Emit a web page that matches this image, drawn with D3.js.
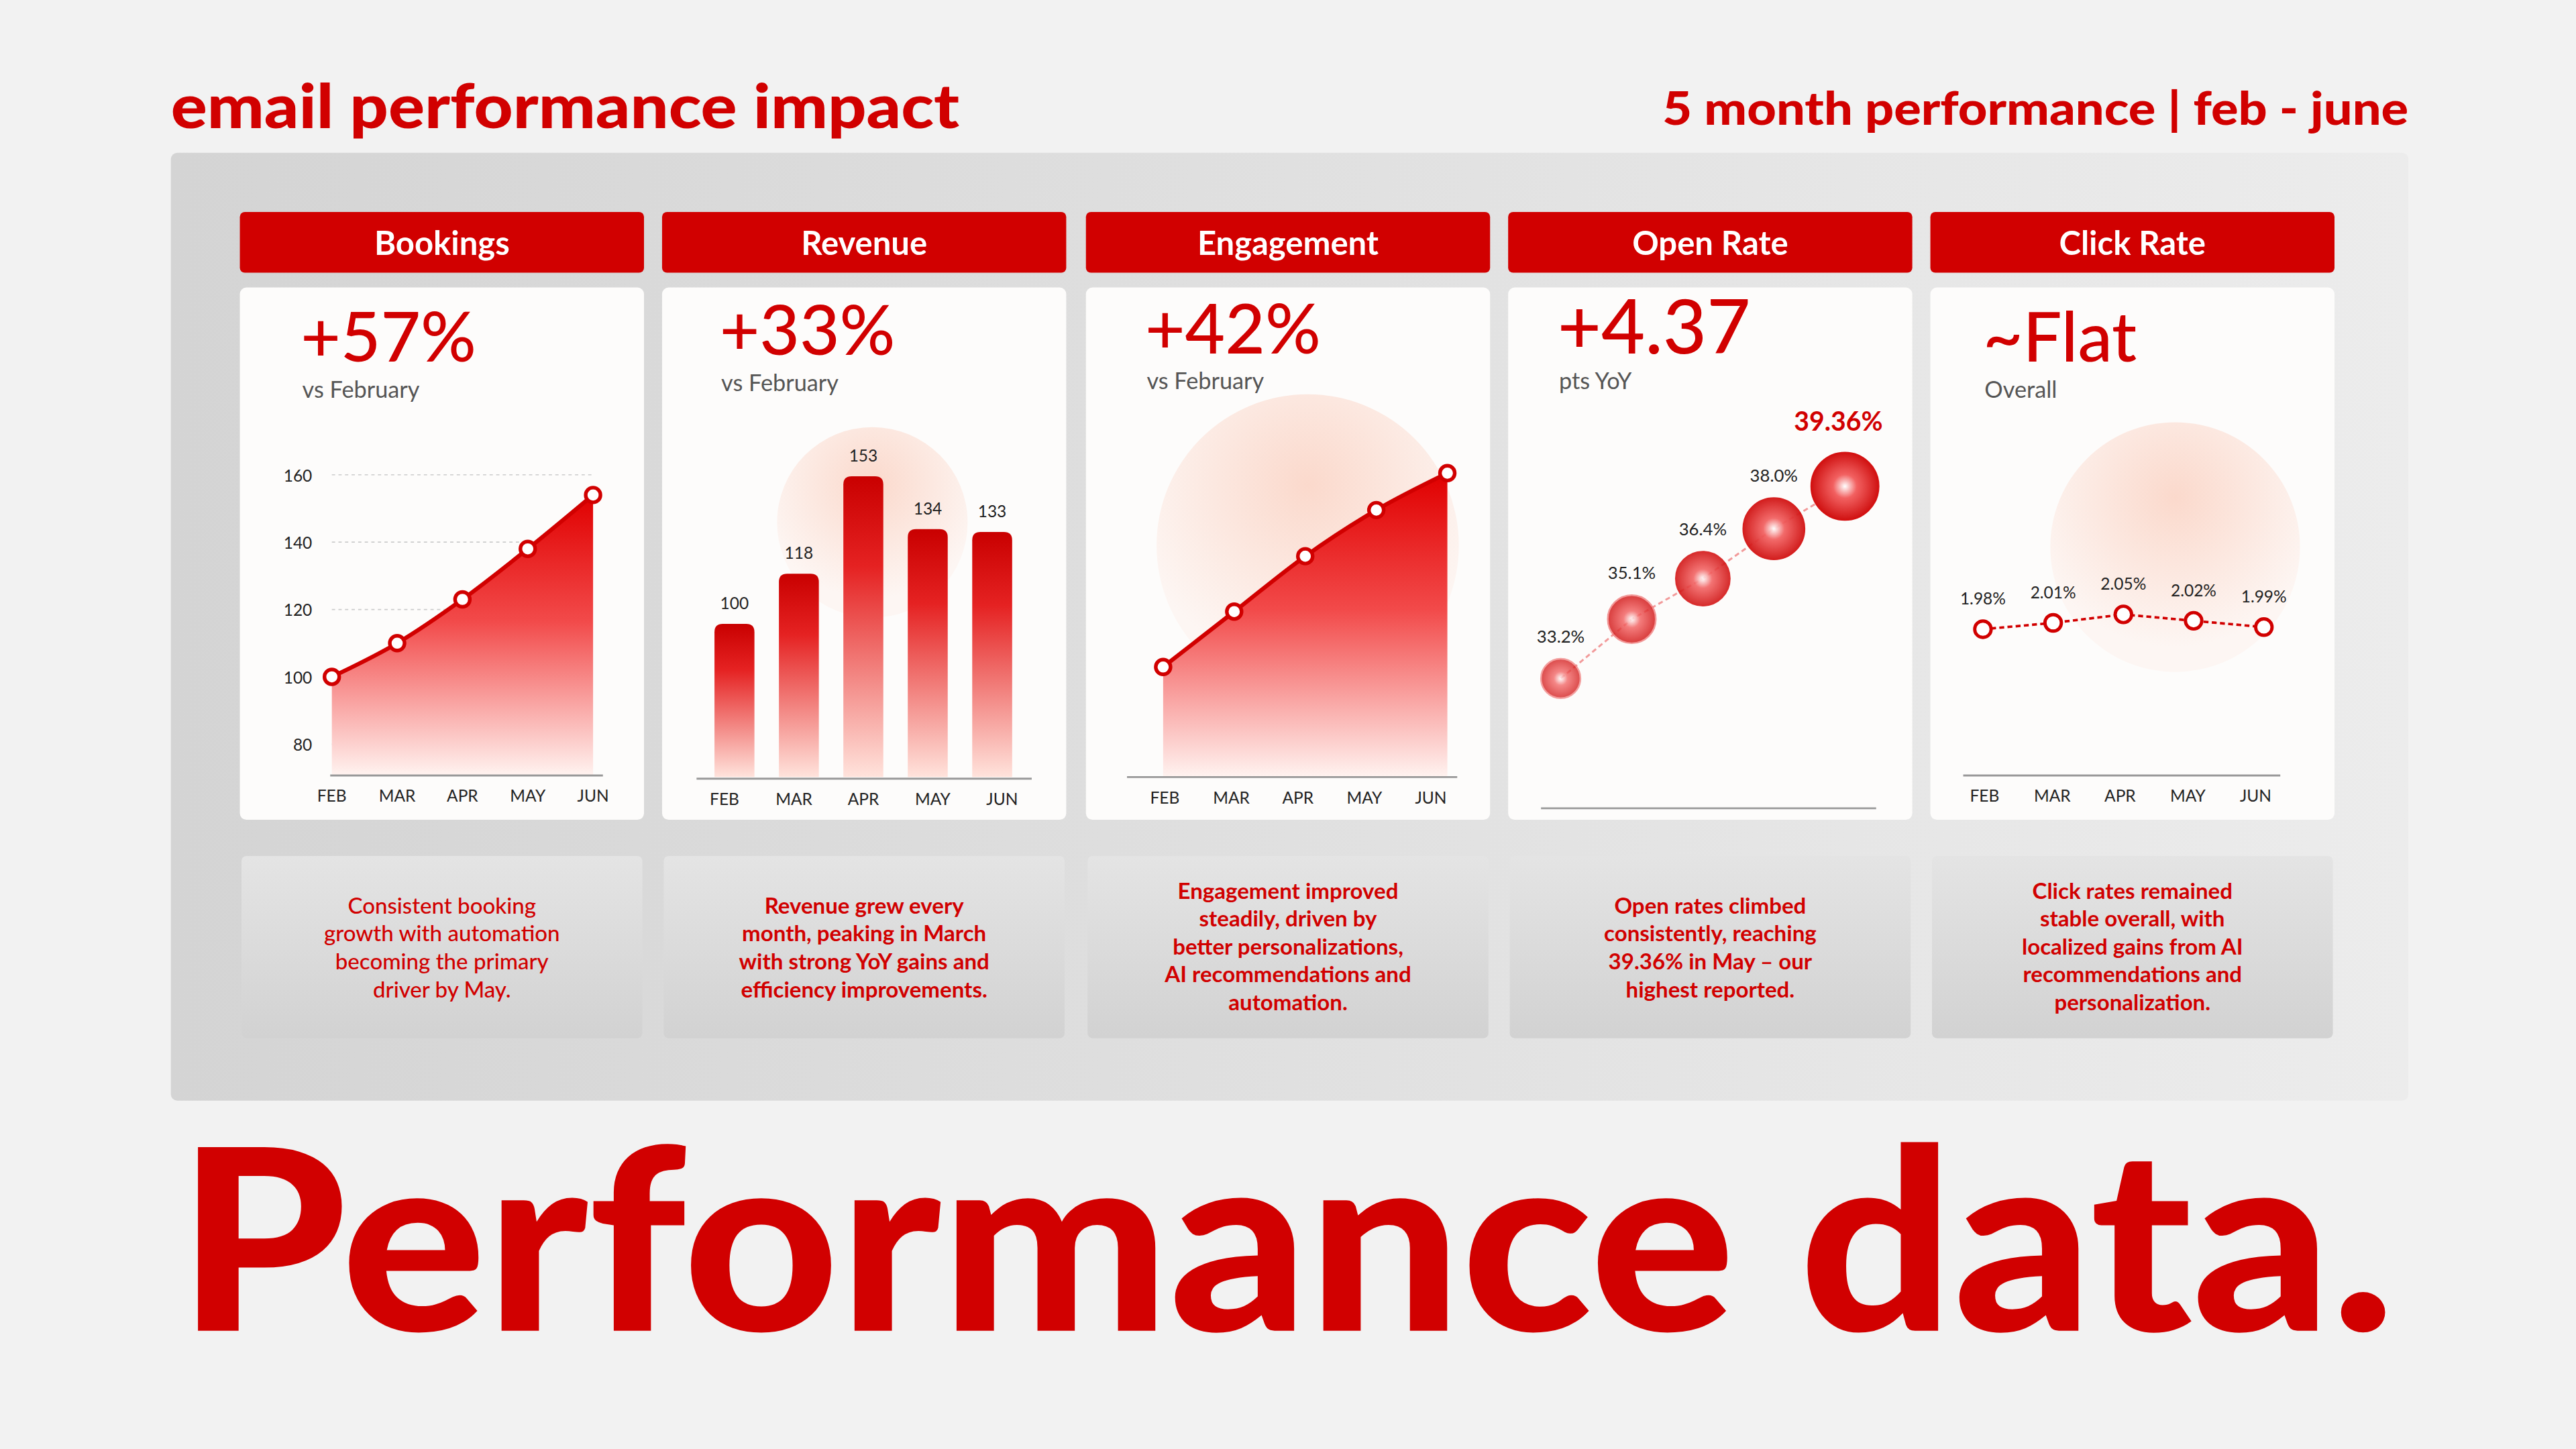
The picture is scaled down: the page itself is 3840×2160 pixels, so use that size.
<!DOCTYPE html>
<html>
<script src="https://d3js.org/d3.v7.min.js"></script>
<body style="margin:0;background:#f2f2f2;">
<svg id="chart" width="3840" height="2160" viewBox="0 0 1568 882"></svg>
<script>
// data
const months = ["FEB", "MAR", "APR", "MAY", "JUN"]
const panelTitles = ["Bookings", "Revenue", "Engagement", "Open Rate", "Click Rate"]
const headlines = ["+57%", "+33%", "+42%", "+4.37", "~Flat"]
const sublines = ["vs February", "vs February", "vs February", "pts YoY", "Overall"]
const bookings = [100, 110, 123, 138, 154]
const bookingTicks = [80, 100, 120, 140, 160]
const revenue = [100, 118, 153, 134, 133]
const engagement = [100, 112, 124, 134, 142]
const openRate = [33.2, 35.1, 36.4, 38.0, 39.36]
const openLabels = ["33.2%", "35.1%", "36.4%", "38.0%", "39.36%"]
const clickRate = [1.98, 2.01, 2.05, 2.02, 1.99]
const clickLabels = ["1.98%", "2.01%", "2.05%", "2.02%", "1.99%"]
const notes = [
  ["Consistent booking", "growth with automation", "becoming the primary", "driver by May."],
  ["Revenue grew every", "month, peaking in March", "with strong YoY gains and", "efficiency improvements."],
  ["Engagement improved", "steadily, driven by", "better personalizations,", "AI recommendations and", "automation."],
  ["Open rates climbed", "consistently, reaching", "39.36% in May – our", "highest reported."],
  ["Click rates remained", "stable overall, with", "localized gains from AI", "recommendations and", "personalization."]
]

const RED = "#d10000"
const FONT = "Lato, 'Open Sans', sans-serif"
const svg = d3.select("#chart").style("font-family", FONT)
const defs = svg.append("defs")

// gradients
const g1 = defs.append("linearGradient").attr("id", "panelBg").attr("x1", 0).attr("y1", 0).attr("x2", 1).attr("y2", 0)
g1.append("stop").attr("offset", "0").attr("stop-color", "#d4d4d4")
g1.append("stop").attr("offset", "1").attr("stop-color", "#ececec")
const g2 = defs.append("linearGradient").attr("id", "noteBg").attr("x1", 0).attr("y1", 0).attr("x2", 0).attr("y2", 1)
g2.append("stop").attr("offset", "0").attr("stop-color", "#e4e4e4")
g2.append("stop").attr("offset", "1").attr("stop-color", "#d2d2d2")
const g3 = defs.append("linearGradient").attr("id", "areaFill").attr("x1", 0).attr("y1", 0).attr("x2", 0).attr("y2", 1)
g3.append("stop").attr("offset", "0").attr("stop-color", "#e00000")
g3.append("stop").attr("offset", "0.45").attr("stop-color", "#f24a4a")
g3.append("stop").attr("offset", "1").attr("stop-color", "#fff3f0")
const g4 = defs.append("linearGradient").attr("id", "barFill").attr("x1", 0).attr("y1", 0).attr("x2", 0).attr("y2", 1)
g4.append("stop").attr("offset", "0").attr("stop-color", "#c90000")
g4.append("stop").attr("offset", "0.3").attr("stop-color", "#e52222")
g4.append("stop").attr("offset", "1").attr("stop-color", "#ffe3dc")
const g5 = defs.append("radialGradient").attr("id", "glow").attr("cx", 0.5).attr("cy", 0.3).attr("r", 0.6)
g5.append("stop").attr("offset", "0").attr("stop-color", "#fbd9cc")
g5.append("stop").attr("offset", "1").attr("stop-color", "#fdf6f3")
const g6 = defs.append("radialGradient").attr("id", "bubble").attr("cx", 0.5).attr("cy", 0.5).attr("r", 0.5)
g6.append("stop").attr("offset", "0").attr("stop-color", "#ffffff")
g6.append("stop").attr("offset", "0.35").attr("stop-color", "#f26060")
g6.append("stop").attr("offset", "1").attr("stop-color", "#d01010")

// titles
svg.append("text").attr("x", 104).attr("y", 78).attr("fill", RED)
  .attr("font-size", 37).attr("font-weight", 900)
  .attr("textLength", 480).attr("lengthAdjust", "spacingAndGlyphs").text("email performance impact")
svg.append("text").attr("x", 1012).attr("y", 76).attr("fill", RED)
  .attr("font-size", 28).attr("font-weight", 900)
  .attr("textLength", 454).attr("lengthAdjust", "spacingAndGlyphs").text("5 month performance | feb - june")

svg.append("rect").attr("x", 104).attr("y", 93).attr("width", 1362).attr("height", 577)
  .attr("rx", 4).attr("fill", "url(#panelBg)")

const colX = [146, 403, 661, 918, 1175]
const colW = 246

colX.forEach((x, i) => {
  svg.append("rect").attr("x", x).attr("y", 129).attr("width", colW).attr("height", 37)
    .attr("rx", 3).attr("fill", RED)
  svg.append("text").attr("x", x + colW / 2).attr("y", 155).attr("text-anchor", "middle")
    .attr("fill", "#fff").attr("font-size", 20).attr("font-weight", 700).text(panelTitles[i])
  svg.append("rect").attr("x", x).attr("y", 175).attr("width", colW).attr("height", 324)
    .attr("rx", 4).attr("fill", "#fdfcfb")
  svg.append("rect").attr("x", x + 1).attr("y", 521).attr("width", colW - 2).attr("height", 111)
    .attr("rx", 3).attr("fill", "url(#noteBg)")
  const n = notes[i]
  const top = n.length === 5 ? 547 : 556
  n.forEach((line, j) => {
    svg.append("text").attr("x", x + colW / 2).attr("y", top + j * 17).attr("text-anchor", "middle")
      .attr("fill", RED).attr("font-size", 13.5).attr("font-weight", i === 0 ? 500 : 700).text(line)
  })
})

const headY = [220, 216, 215, 215, 220]
const headX = [183, 438, 697, 948, 1207]
headlines.forEach((h, i) => {
  svg.append("text").attr("x", headX[i]).attr("y", headY[i]).attr("fill", RED)
    .attr("font-size", i === 3 ? 46 : 42).attr("font-weight", 500).text(h)
  svg.append("text").attr("x", headX[i] + 1).attr("y", headY[i] + 22).attr("fill", "#555")
    .attr("font-size", 14).text(sublines[i])
})

function monthAxis(x, y, x1, x2) {
  svg.append("line").attr("x1", x1).attr("x2", x2).attr("y1", y).attr("y2", y)
    .attr("stroke", "#999").attr("stroke-width", 1.2)
  months.forEach(m => {
    svg.append("text").attr("x", x(m)).attr("y", y + 16).attr("text-anchor", "middle")
      .attr("font-size", 10).attr("fill", "#222").text(m)
  })
}

// 1. bookings area
{
  const x = d3.scalePoint().domain(months).range([202, 361])
  const y = d3.scaleLinear().domain([80, 160]).range([453, 289])
  bookingTicks.forEach(t => {
    svg.append("line").attr("x1", 202).attr("x2", 361).attr("y1", y(t)).attr("y2", y(t))
      .attr("stroke", "#ccc").attr("stroke-dasharray", "2,2").attr("stroke-width", 0.7)
    svg.append("text").attr("x", 190).attr("y", y(t) + 4).attr("text-anchor", "end")
      .attr("font-size", 10).attr("fill", "#222").text(t)
  })
  const data = months.map((m, i) => ({ m, v: bookings[i] }))
  svg.append("path").datum(data).attr("fill", "url(#areaFill)")
    .attr("d", d3.area().curve(d3.curveMonotoneX).x(d => x(d.m)).y0(472).y1(d => y(d.v)))
  svg.append("path").datum(data).attr("fill", "none").attr("stroke", RED).attr("stroke-width", 2.5)
    .attr("d", d3.line().curve(d3.curveMonotoneX).x(d => x(d.m)).y(d => y(d.v)))
  svg.selectAll(".bk").data(data).join("circle").attr("cx", d => x(d.m)).attr("cy", d => y(d.v))
    .attr("r", 4.5).attr("fill", "#fff").attr("stroke", RED).attr("stroke-width", 2.2)
  monthAxis(x, 472, 201, 367)
}

// 2. revenue bars
{
  const x = d3.scaleBand().domain(months).range([420, 631]).padding(0.38)
  const y = d3.scaleLinear().domain([45, 160]).range([473, 278])
  svg.append("circle").attr("cx", 531).attr("cy", 318).attr("r", 58).attr("fill", "url(#glow)")
  svg.selectAll(".bar").data(revenue).join("path")
    .attr("fill", "url(#barFill)")
    .attr("d", (d, i) => {
      const x0 = x(months[i]), w = x.bandwidth(), t = y(d), r = 5
      return `M${x0},473V${t + r}Q${x0},${t} ${x0 + r},${t}H${x0 + w - r}Q${x0 + w},${t} ${x0 + w},${t + r}V473Z`
    })
  revenue.forEach((d, i) => {
    svg.append("text").attr("x", x(months[i]) + x.bandwidth() / 2).attr("y", y(d) - 9)
      .attr("text-anchor", "middle").attr("font-size", 10).attr("fill", "#222").text(d)
  })
  const xp = d3.scalePoint().domain(months).range([441, 610])
  monthAxis(xp, 474, 424, 628)
}

// 3. engagement area
{
  const x = d3.scalePoint().domain(months).range([708, 881])
  const y = d3.scaleLinear().domain([100, 142]).range([406, 288])
  svg.append("circle").attr("cx", 796).attr("cy", 332).attr("r", 92).attr("fill", "url(#glow)")
  const data = months.map((m, i) => ({ m, v: engagement[i] }))
  svg.append("path").datum(data).attr("fill", "url(#areaFill)")
    .attr("d", d3.area().curve(d3.curveMonotoneX).x(d => x(d.m)).y0(473).y1(d => y(d.v)))
  svg.append("path").datum(data).attr("fill", "none").attr("stroke", RED).attr("stroke-width", 2.5)
    .attr("d", d3.line().curve(d3.curveMonotoneX).x(d => x(d.m)).y(d => y(d.v)))
  svg.selectAll(".en").data(data).join("circle").attr("cx", d => x(d.m)).attr("cy", d => y(d.v))
    .attr("r", 4.5).attr("fill", "#fff").attr("stroke", RED).attr("stroke-width", 2.2)
  monthAxis(d3.scalePoint().domain(months).range([709, 871]), 473, 686, 887)
}

// 4. open rate bubbles
{
  const x = d3.scalePoint().domain(months).range([950, 1123])
  const y = d3.scaleLinear().domain([33.2, 39.36]).range([413, 296])
  const r = d3.scaleLinear().domain([33.2, 39.36]).range([12, 20.5])
  const data = months.map((m, i) => ({ m, v: openRate[i], l: openLabels[i] }))
  svg.append("path").datum(data).attr("fill", "none").attr("stroke", "#f29a9a")
    .attr("stroke-dasharray", "3,2").attr("stroke-width", 1.2)
    .attr("d", d3.line().x(d => x(d.m)).y(d => y(d.v)))
  svg.selectAll(".bb").data(data).join("circle").attr("cx", d => x(d.m)).attr("cy", d => y(d.v))
    .attr("r", d => r(d.v)).attr("fill", "url(#bubble)")
    .attr("stroke", (d, i) => i < 2 ? "#f08080" : "#d41010").attr("stroke-width", 1)
    .attr("opacity", (d, i) => 0.75 + i * 0.06)
  data.forEach((d, i) => {
    if (i === 4) {
      svg.append("text").attr("x", 1146).attr("y", 262).attr("text-anchor", "end")
        .attr("font-size", 16).attr("font-weight", 700).attr("fill", RED).text(d.l)
    } else {
      svg.append("text").attr("x", x(d.m)).attr("y", y(d.v) - r(d.v) - 10)
        .attr("text-anchor", "middle").attr("font-size", 10.5).attr("fill", "#222").text(d.l)
    }
  })
  svg.append("line").attr("x1", 938).attr("x2", 1142).attr("y1", 492).attr("y2", 492)
    .attr("stroke", "#999").attr("stroke-width", 1.2)
}

// 5. click rate flat line
{
  const x = d3.scalePoint().domain(months).range([1207, 1378])
  const y = d3.scaleLinear().domain([1.98, 2.05]).range([383, 374])
  svg.append("circle").attr("cx", 1324).attr("cy", 333).attr("r", 76).attr("fill", "url(#glow)")
  const data = months.map((m, i) => ({ m, v: clickRate[i], l: clickLabels[i] }))
  svg.append("path").datum(data).attr("fill", "none").attr("stroke", RED)
    .attr("stroke-dasharray", "3,2").attr("stroke-width", 1.5)
    .attr("d", d3.line().x(d => x(d.m)).y(d => y(d.v)))
  svg.selectAll(".cr").data(data).join("circle").attr("cx", d => x(d.m)).attr("cy", d => y(d.v))
    .attr("r", 5).attr("fill", "#fff").attr("stroke", RED).attr("stroke-width", 2)
  data.forEach(d => {
    svg.append("text").attr("x", x(d.m)).attr("y", y(d.v) - 15).attr("text-anchor", "middle")
      .attr("font-size", 10).attr("fill", "#222").text(d.l)
  })
  monthAxis(d3.scalePoint().domain(months).range([1208, 1373]), 472, 1195, 1388)
}

// big footer
svg.append("text").attr("x", 108).attr("y", 810).attr("fill", RED)
  .attr("font-size", 154).attr("font-weight", 900)
  .attr("textLength", 1350).attr("lengthAdjust", "spacingAndGlyphs")
  .text("Performance data.")
</script>
</body>
</html>
